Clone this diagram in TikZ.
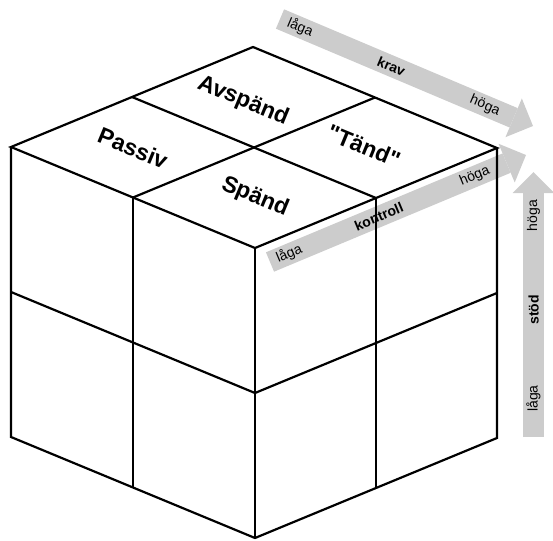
\documentclass[tikz,border=0pt]{standalone}
\usepackage{fontspec}
\setmainfont{Liberation Sans}
\usetikzlibrary{arrows.meta, calc}
\definecolor{ljusGra}{RGB}{204,204,204}
\tikzset{
  kub/linje/.style={draw=black, line width=1.1pt, line join=miter},
  kub/falt/.style={font=\fontsize{11.5}{13}\selectfont\bfseries,
    rotate=-22.5, inner sep=0pt},
  axel/pil/.style={draw=ljusGra, line width=10.5pt,
    -{Triangle[length=10.5pt, width=21pt, line width=0pt]}},
  axel/lbl/.style={font=\fontsize{7}{8}\selectfont, sloped, inner sep=0pt},
  axel/namn/.style={axel/lbl, font=\fontsize{7}{8}\selectfont\bfseries}
}

\begin{document}
\begin{tikzpicture}[x=0.5pt, y=-0.5pt]
  \useasboundingbox (0,0) rectangle (553,541);

  % hornen i kuben
  \coordinate (F)  at (255,248);
  \coordinate (V)  at (11,147);
  \coordinate (H)  at (497,148);
  \coordinate (B)  at (253,47);
  \coordinate (Fb) at (255,538);
  \coordinate (Vb) at (11,437);
  \coordinate (Hb) at (497,438);

  % axlarna
  \coordinate (kravA) at (280,19);
  \coordinate (kravB) at (533,126);
  \coordinate (kontA) at (270,262);
  \coordinate (kontB) at (526,155);
  \coordinate (stodA) at (533.5,437);
  \coordinate (stodB) at (533.5,172);

  \draw[axel/pil] (kravA) -- (kravB)
        node[axel/lbl,  pos=0.08]{låga}
        node[axel/namn, pos=0.44]{krav}
        node[axel/lbl,  pos=0.81]{höga};
  \draw[axel/pil] (kontA) -- (kontB)
        node[axel/lbl,  pos=0.075]{låga}
        node[axel/namn, pos=0.425]{kontroll}
        node[axel/lbl,  pos=0.80]{höga};
  \draw[axel/pil] (stodA) -- (stodB)
        node[axel/lbl,  pos=0.145]{låga}
        node[axel/namn, pos=0.48]{stöd}
        node[axel/lbl,  pos=0.835]{höga};

  % kuben
  \draw[kub/linje] (F) -- (V) -- (B) -- (H) -- cycle;
  \draw[kub/linje] (V) -- (Vb) -- (Fb) -- (Hb) -- (H);
  \draw[kub/linje] (F) -- (Fb);
  \draw[kub/linje] ($(V)!0.5!(F)$) -- ($(B)!0.5!(H)$);
  \draw[kub/linje] ($(F)!0.5!(H)$) -- ($(V)!0.5!(B)$);
  \draw[kub/linje] ($(V)!0.5!(F)$) -- ($(Vb)!0.5!(Fb)$);
  \draw[kub/linje] ($(F)!0.5!(H)$) -- ($(Fb)!0.5!(Hb)$);
  \draw[kub/linje] ($(V)!0.5!(Vb)$) -- ($(F)!0.5!(Fb)$) -- ($(H)!0.5!(Hb)$);

  \node[kub/falt] (passiv)  at (133,148) {Passiv};
  \node[kub/falt] (avspand) at (243,101) {Avspänd};
  \node[kub/falt] (spand)   at (255,197) {Spänd};
  \node[kub/falt] (tand)    at (364,146) {\textquotedbl Tänd\textquotedbl};
\end{tikzpicture}
\end{document}
